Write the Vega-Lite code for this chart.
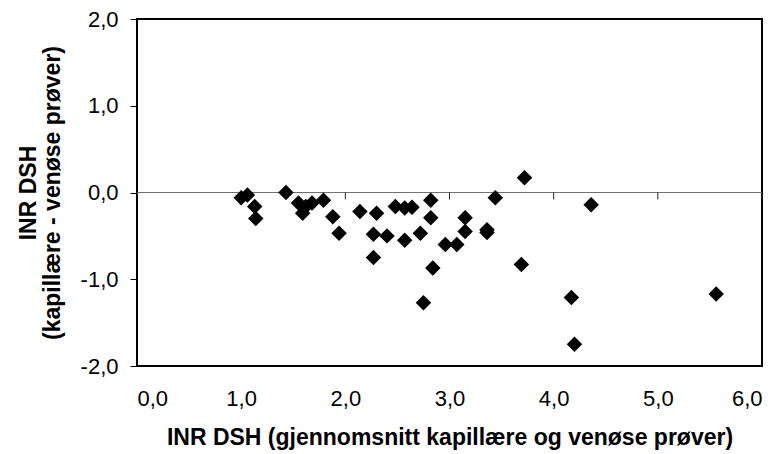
{
  "$schema": "https://vega.github.io/schema/vega-lite/v6.json",
  "width": 625,
  "height": 347,
  "autosize": {"type": "none"},
  "padding": {"left": 137, "top": 19, "right": 18, "bottom": 88},
  "background": "white",
  "config": {
    "view": {"stroke": "black", "strokeWidth": 2},
    "font": "Liberation Sans"
  },
  "datasets": {
    "points": [
      {"x": 1.00, "y": -0.06}, {"x": 1.06, "y": -0.03}, {"x": 1.13, "y": -0.16}, {"x": 1.14, "y": -0.30},
      {"x": 1.43, "y": 0.00}, {"x": 1.55, "y": -0.12}, {"x": 1.59, "y": -0.24}, {"x": 1.62, "y": -0.16},
      {"x": 1.68, "y": -0.12}, {"x": 1.79, "y": -0.09}, {"x": 1.88, "y": -0.28}, {"x": 1.94, "y": -0.47},
      {"x": 2.14, "y": -0.22}, {"x": 2.30, "y": -0.24}, {"x": 2.27, "y": -0.48}, {"x": 2.27, "y": -0.75},
      {"x": 2.40, "y": -0.50}, {"x": 2.48, "y": -0.16}, {"x": 2.57, "y": -0.18}, {"x": 2.64, "y": -0.17},
      {"x": 2.57, "y": -0.55}, {"x": 2.72, "y": -0.47}, {"x": 2.75, "y": -1.27}, {"x": 2.82, "y": -0.09},
      {"x": 2.82, "y": -0.29}, {"x": 2.84, "y": -0.87}, {"x": 2.96, "y": -0.60}, {"x": 3.07, "y": -0.60},
      {"x": 3.15, "y": -0.29}, {"x": 3.15, "y": -0.45}, {"x": 3.36, "y": -0.43}, {"x": 3.36, "y": -0.46},
      {"x": 3.44, "y": -0.06}, {"x": 3.72, "y": 0.17}, {"x": 3.69, "y": -0.83}, {"x": 4.17, "y": -1.21},
      {"x": 4.20, "y": -1.75}, {"x": 4.36, "y": -0.14}, {"x": 5.56, "y": -1.17}
    ],
    "zeroTicks": [{"x": 1}, {"x": 2}, {"x": 3}, {"x": 4}, {"x": 5}, {"x": 6}]
  },
  "layer": [
    {
      "data": {"name": "points"},
      "mark": {"type": "rule", "color": "#707070", "strokeWidth": 1},
      "encoding": {
        "y": {"datum": 0, "type": "quantitative"}
      }
    },
    {
      "data": {"name": "zeroTicks"},
      "mark": {"type": "tick", "orient": "vertical", "size": 7, "thickness": 1, "yOffset": 3.5, "color": "#202020", "opacity": 1},
      "encoding": {
        "x": {"field": "x", "type": "quantitative"},
        "y": {"datum": 0, "type": "quantitative"}
      }
    },
    {
      "data": {"name": "points"},
      "mark": {"type": "point", "shape": "diamond", "filled": true, "color": "black", "opacity": 1, "size": 240},
      "encoding": {
        "x": {"field": "x", "type": "quantitative", "scale": {"domain": [0, 6], "nice": false, "zero": false},
          "axis": {"orient": "bottom", "values": [0, 1, 2, 3, 4, 5, 6], "labelExpr": "replace(replace(format(datum.value, '.1f'), '.', ','), '\u2212', '-')", "domain": false, "grid": false, "ticks": false, "tickSize": 0, "labelPadding": 22, "labelFontSize": 22, "labelColor": "black", "labelFont": "Liberation Sans", "title": "INR DSH (gjennomsnitt kapillære og venøse prøver)", "titleFontSize": 23, "titleFontWeight": "bold", "titleColor": "black", "titleFont": "Liberation Sans", "titlePadding": 17}},
        "y": {"field": "y", "type": "quantitative", "scale": {"domain": [-2, 2], "nice": false, "zero": false},
          "axis": {"values": [-2, -1, 0, 1, 2], "labelExpr": "replace(replace(format(datum.value, '.1f'), '.', ','), '\u2212', '-')", "domain": false, "grid": false, "ticks": true, "tickSize": 7, "tickColor": "black", "tickWidth": 1, "labelPadding": 12, "labelFontSize": 22, "labelColor": "black", "labelFont": "Liberation Sans", "title": ["INR DSH", "(kapillære - venøse prøver)"], "titleFontSize": 23, "titleFontWeight": "bold", "titleColor": "black", "titleFont": "Liberation Sans", "titleLineHeight": 24, "titlePadding": 16}}
      }
    }
  ]
}
